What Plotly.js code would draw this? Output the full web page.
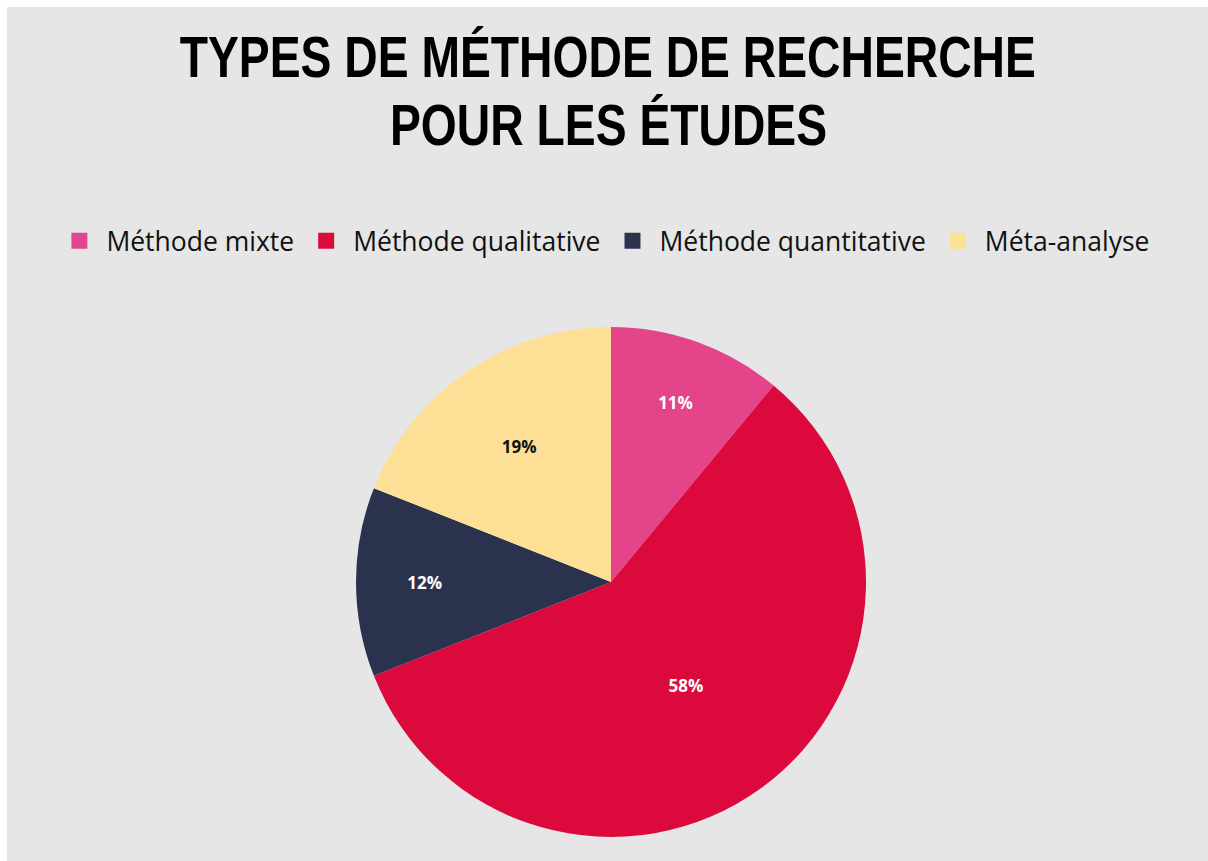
<!DOCTYPE html>
<html>
<head>
<meta charset="utf-8">
<script src="https://cdn.plot.ly/plotly-3.0.1.min.js"></script>
<style>
  html, body { margin: 0; padding: 0; background: #ffffff; width: 1208px; height: 861px; overflow: hidden; }
  #chart { position: absolute; left: 7px; top: 7px; width: 1201px; height: 854px; }
</style>
</head>
<body>
<div id="chart"></div>
<script>
// Data
const categories = ["Méthode mixte", "Méthode qualitative", "Méthode quantitative", "Méta-analyse"];
const values = [11, 58, 12, 19];
const colors = ["#e4448a", "#dc0a3c", "#2b324e", "#fddf95"];
const labelColors = ["#ffffff", "#ffffff", "#ffffff", "#111111"];
const titleLines = ["TYPES DE MÉTHODE DE RECHERCHE", "POUR LES ÉTUDES"];

const W = 1201, H = 854;
const titleFont = { family: "Liberation Sans, Arial, sans-serif", size: 57, color: "#000000", weight: "bold" };

const trace = {
  type: "pie",
  labels: categories,
  values: values,
  sort: false,
  direction: "clockwise",
  rotation: 0,
  marker: { colors: colors, line: { width: 0 } },
  textinfo: "percent",
  texttemplate: "%{percent:.0%}",
  textposition: "inside",
  insidetextorientation: "horizontal",
  textfont: { family: "Open Sans, sans-serif", size: 17, color: labelColors, weight: "bold" },
  hoverinfo: "label+percent",
  domain: { x: [349 / W, 859 / W], y: [(H - 830) / H, (H - 320) / H] }
};

const layout = {
  width: W,
  height: H,
  margin: { l: 0, r: 0, t: 0, b: 0 },
  paper_bgcolor: "#e6e6e6",
  plot_bgcolor: "#e6e6e6",
  showlegend: true,
  legend: {
    orientation: "h",
    x: 0.497, xanchor: "center",
    y: (H - 234) / H, yanchor: "middle",
    bgcolor: "rgba(0,0,0,0)",
    itemwidth: 44,
    font: { family: "Open Sans, sans-serif", size: 26.5, color: "#111111" },
    traceorder: "normal"
  },
  annotations: [
    {
      text: titleLines[0],
      xref: "paper", yref: "paper",
      x: 0.5, y: (H - 50) / H,
      xanchor: "center", yanchor: "middle",
      showarrow: false,
      font: titleFont
    },
    {
      text: titleLines[1],
      xref: "paper", yref: "paper",
      x: 0.5, y: (H - 118) / H,
      xanchor: "center", yanchor: "middle",
      showarrow: false,
      font: titleFont
    }
  ]
};

Plotly.newPlot("chart", [trace], layout, { displayModeBar: false, staticPlot: true }).then(function (gd) {
  // enlarge the legend colour squares to match the reference
  gd.querySelectorAll(".legendpoints path").forEach(function (p) {
    const t = p.getAttribute("transform") || "";
    p.setAttribute("transform", t + " scale(1.33)");
  });
  // condense the title lines horizontally (no condensed bold font installed)
  const cx = 603; // horizontal centre of the title in the plot div
  gd.querySelectorAll(".annotation").forEach(function (a) {
    a.setAttribute("transform", "translate(" + cx + ",0) scale(0.812,1) translate(" + (-cx) + ",0)");
  });
});
</script>
</body>
</html>
